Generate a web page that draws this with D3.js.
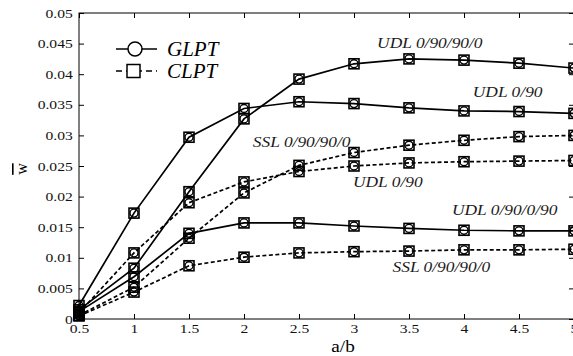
<!DOCTYPE html>
<html lang="en">
<head>
<meta charset="utf-8">
<title>w vs a/b</title>
<script src="https://d3js.org/d3.v7.min.js"></script>
<style>
  body { margin: 0; background: #fff; }
  svg { display: block; }
</style>
</head>
<body>
<div id="chart"></div>
<script>
// ---- data ----
const abRatio = [0.5, 1, 1.5, 2, 2.5, 3, 3.5, 4, 4.5, 5];

// solid curves
const udl09090 = [0.0015, 0.0083, 0.0208, 0.0327, 0.0392, 0.0417, 0.0425, 0.0423, 0.0418, 0.0410];
const udl090   = [0.0022, 0.0173, 0.0297, 0.0344, 0.0355, 0.0352, 0.0345, 0.0340, 0.0339, 0.0336];
const udl09009 = [0.0012, 0.0069, 0.0140, 0.0157, 0.0157, 0.0152, 0.0148, 0.0145, 0.0144, 0.0144];
// dashed curves
const ssl09090Hi = [0.0006, 0.0052, 0.0132, 0.0206, 0.0251, 0.0272, 0.0284, 0.0292, 0.0298, 0.0300];
const udl090Lo   = [0.0010, 0.0108, 0.0190, 0.0224, 0.0241, 0.0250, 0.0255, 0.0257, 0.0258, 0.0259];
const ssl09090Lo = [0.0005, 0.0044, 0.0087, 0.0101, 0.0108, 0.0110, 0.0111, 0.0113, 0.0113, 0.0114];

const yTicks = [0, 0.005, 0.01, 0.015, 0.02, 0.025, 0.03, 0.035, 0.04, 0.045, 0.05];
const xTicks = abRatio;

const curveLabels = ["UDL 0/90/90/0", "UDL 0/90", "SSL 0/90/90/0", "UDL 0/90", "UDL 0/90/0/90", "SSL 0/90/90/0"];
const labelAt = [[3.21, 0.0443], [4.08, 0.0363], [2.08, 0.0281], [2.99, 0.0216], [3.89, 0.0170], [3.35, 0.0077]];

const W = 573, H = 356;
const margin = {top: 13, left: 79, bottom: 37, right: -1};
const serif = "'Liberation Serif', 'Times New Roman', serif";

const svg = d3.select("#chart").append("svg")
  .attr("width", W).attr("height", H);

const x = d3.scaleLinear().domain([0.5, 5]).range([margin.left, W - margin.right]);
const y = d3.scaleLinear().domain([0, 0.05]).range([H - margin.bottom, margin.top]);

// frame
svg.append("rect")
  .attr("x", x(0.5)).attr("y", y(0.05))
  .attr("width", x(5) - x(0.5)).attr("height", y(0) - y(0.05))
  .attr("fill", "none").attr("stroke", "#000").attr("stroke-width", 1);

const fmtY = d => d === 0 ? "0" : String(+d.toFixed(3));

function styleAxis(g) {
  g.attr("font-family", serif);
  g.select(".domain").remove();
  g.selectAll("line").attr("stroke", "#000");
  g.selectAll("text")
    .style("font-family", serif).attr("font-size", 12.5).attr("fill", "#111");
}

// inward ticks on all four sides
svg.append("g").attr("transform", `translate(0,${y(0)})`)
  .call(d3.axisBottom(x).tickValues(xTicks).tickSize(-5).tickPadding(5).tickFormat(d => String(d)))
  .call(styleAxis)
  .call(g => g.selectAll("text").attr("transform", "scale(1.25,1)"));

svg.append("g").attr("transform", `translate(0,${y(0.05)})`)
  .call(d3.axisTop(x).tickValues(xTicks).tickSize(-5).tickFormat(""))
  .call(styleAxis);

svg.append("g").attr("transform", `translate(${x(0.5)},0)`)
  .call(d3.axisLeft(y).tickValues(yTicks).tickSize(-5).tickPadding(5).tickFormat(fmtY))
  .call(styleAxis)
  .call(g => g.selectAll("text").attr("transform", "scale(1.25,1)"));

svg.append("g").attr("transform", `translate(${x(5)},0)`)
  .call(d3.axisRight(y).tickValues(yTicks).tickSize(-5).tickFormat(""))
  .call(styleAxis);

// axis titles
svg.append("text")
  .attr("transform", `translate(${x(2.9)},${H - 4}) scale(1.2,1)`)
  .attr("text-anchor", "middle")
  .style("font-family", serif).attr("font-size", 16)
  .text("a/b");

svg.append("text")
  .attr("transform", `translate(27,${y(0.0245)}) rotate(-90)`)
  .attr("text-anchor", "middle")
  .style("font-family", serif).attr("font-size", 16)
  .style("text-decoration", "overline")
  .text("w");

// curves
const series = [
  {vals: udl09090, dash: null},
  {vals: udl090, dash: null},
  {vals: udl09009, dash: null},
  {vals: ssl09090Hi, dash: "4,2.5"},
  {vals: udl090Lo, dash: "4,2.5"},
  {vals: ssl09090Lo, dash: "4,2.5"}
];

const line = d3.line().x((d, i) => x(abRatio[i])).y(d => y(d));

series.forEach(s => {
  svg.append("path")
    .datum(s.vals)
    .attr("d", line)
    .attr("fill", "none")
    .attr("stroke", "#000")
    .attr("stroke-width", 1.7)
    .attr("stroke-dasharray", s.dash);

  const pts = svg.append("g");
  pts.selectAll("rect").data(s.vals).join("rect")
    .attr("x", (d, i) => x(abRatio[i]) - 5)
    .attr("y", d => y(d) - 5)
    .attr("width", 10).attr("height", 10)
    .attr("fill", "none").attr("stroke", "#000").attr("stroke-width", 1.6);
  pts.selectAll("circle").data(s.vals).join("circle")
    .attr("cx", (d, i) => x(abRatio[i]))
    .attr("cy", d => y(d))
    .attr("r", 4)
    .attr("fill", "none").attr("stroke", "#000").attr("stroke-width", 1.4);
});

// curve annotations
svg.selectAll(".ann").data(curveLabels).join("text")
  .attr("class", "ann")
  .attr("transform", (d, i) => `translate(${x(labelAt[i][0])},${y(labelAt[i][1])}) scale(1.2,1)`)
  .style("font-family", serif).attr("font-size", 14.5).attr("font-style", "italic")
  .attr("fill", "#1a1a1a")
  .text(d => d);

// legend
const legend = svg.append("g").attr("transform", "translate(116,49)");
const legendItems = [
  {name: "GLPT", dash: null, marker: "circle"},
  {name: "CLPT", dash: "6,4", marker: "square"}
];
legendItems.forEach((it, i) => {
  const g = legend.append("g").attr("transform", `translate(0,${i * 22})`);
  g.append("line").attr("x1", 0).attr("x2", 41)
    .attr("stroke", "#000").attr("stroke-width", 1.6)
    .attr("stroke-dasharray", it.dash);
  if (it.marker === "circle") {
    g.append("circle").attr("cx", 19).attr("r", 7)
      .attr("fill", "#fff").attr("stroke", "#000").attr("stroke-width", 1.5);
  } else {
    g.append("rect").attr("x", 11).attr("y", -6.5).attr("width", 13).attr("height", 13)
      .attr("fill", "#fff").attr("stroke", "#000").attr("stroke-width", 1.5);
  }
  g.append("text").attr("x", 51).attr("y", 7)
    .style("font-family", serif).attr("font-size", 21).attr("font-style", "italic")
    .text(it.name);
});
</script>
</body>
</html>
